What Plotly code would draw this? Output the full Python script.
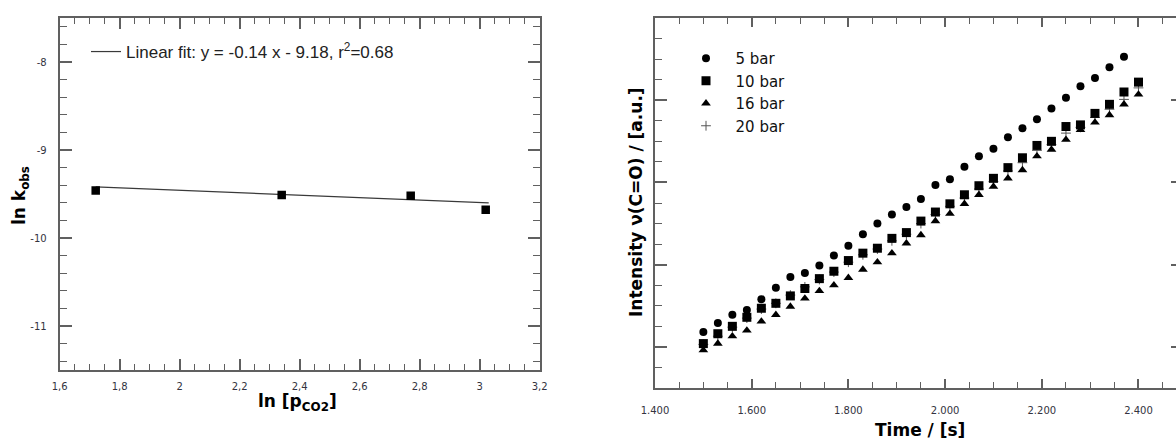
import plotly.graph_objects as go

# ---------------- data: left panel ----------------
ln_p = [1.72, 2.34, 2.77, 3.02]
ln_k = [-9.46, -9.51, -9.52, -9.68]
fit_x = [1.72, 3.03]
fit_y = [-9.42, -9.60]
fit_label = "Linear fit: y = -0.14 x - 9.18, r<sup>2</sup>=0.68"
left_yticks = [-8, -9, -10, -11]
left_yticktext = ["-8", "-9", "-10", "-11"]

# ---------------- data: right panel ----------------
time_5 = [1500, 1530, 1560, 1590, 1620, 1650, 1680, 1710, 1740, 1770,
          1800, 1830, 1860, 1890, 1920, 1950, 1980, 2010, 2040, 2070,
          2100, 2130, 2160, 2190, 2220, 2250, 2280, 2310, 2340, 2370]
time_all = [1500, 1530, 1560, 1590, 1620, 1650, 1680, 1710, 1740, 1770,
            1800, 1830, 1860, 1890, 1920, 1950, 1980, 2010, 2040, 2070,
            2100, 2130, 2160, 2190, 2220, 2250, 2280, 2310, 2340, 2370, 2400]
int_5bar = [1.18, 1.29, 1.39, 1.45, 1.58, 1.72, 1.85, 1.90, 1.99, 2.11,
            2.23, 2.37, 2.50, 2.61, 2.70, 2.80, 2.97, 3.04, 3.19, 3.32,
            3.41, 3.55, 3.66, 3.77, 3.90, 4.03, 4.17, 4.27, 4.40, 4.53]
int_10bar = [1.04, 1.16, 1.25, 1.36, 1.47, 1.53, 1.62, 1.71, 1.83, 1.92,
             2.05, 2.14, 2.20, 2.32, 2.39, 2.53, 2.64, 2.74, 2.85, 2.96,
             3.05, 3.18, 3.30, 3.45, 3.50, 3.68, 3.70, 3.84, 3.95, 4.10, 4.22]
int_16bar = [0.96, 1.04, 1.13, 1.20, 1.31, 1.39, 1.49, 1.59, 1.68, 1.75,
             1.84, 1.94, 2.03, 2.14, 2.26, 2.36, 2.53, 2.62, 2.74, 2.85,
             2.95, 3.05, 3.15, 3.32, 3.40, 3.52, 3.64, 3.73, 3.82, 3.95, 4.07]
int_20bar = [1.03, 1.13, 1.24, 1.35, 1.46, 1.53, 1.63, 1.73, 1.82, 1.91,
             2.03, 2.12, 2.19, 2.29, 2.37, 2.50, 2.61, 2.71, 2.81, 2.92,
             3.01, 3.14, 3.24, 3.39, 3.46, 3.60, 3.67, 3.79, 3.89, 4.01, 4.15]
series_names = ["5 bar", "10 bar", "16 bar", "20 bar"]
right_major_y = [1, 2, 3, 4]

W, H = 1176, 441
AX = "#606060"
TICKFONT = dict(family="DejaVu Sans", size=10, color="#333340")
NB = "\u00a0"

fig = go.Figure()

# left panel
fig.add_trace(go.Scatter(x=fit_x, y=fit_y, mode="lines", name=fit_label,
                         line=dict(color="#3a3a3a", width=1.2),
                         xaxis="x", yaxis="y", legend="legend"))
fig.add_trace(go.Scatter(x=ln_p, y=ln_k, mode="markers", showlegend=False,
                         marker=dict(symbol="square", size=8.5, color="black"),
                         xaxis="x", yaxis="y"))

# right panel
fig.add_trace(go.Scatter(x=time_all, y=int_20bar, mode="markers", name=NB * 2 + series_names[3],
                         marker=dict(symbol="cross-thin", size=7, color="#555",
                                     line=dict(color="#555", width=1)),
                         xaxis="x2", yaxis="y2", legend="legend2", legendrank=4))
fig.add_trace(go.Scatter(x=time_5, y=int_5bar, mode="markers", name=NB * 2 + series_names[0],
                         marker=dict(symbol="circle", size=8, color="black"),
                         xaxis="x2", yaxis="y2", legend="legend2", legendrank=1))
fig.add_trace(go.Scatter(x=time_all, y=int_10bar, mode="markers", name=NB * 2 + series_names[1],
                         marker=dict(symbol="square", size=9, color="black"),
                         xaxis="x2", yaxis="y2", legend="legend2", legendrank=2))
fig.add_trace(go.Scatter(x=time_all, y=int_16bar, mode="markers", name=NB * 2 + series_names[2],
                         marker=dict(symbol="triangle-up", size=8.5, color="black"),
                         xaxis="x2", yaxis="y2", legend="legend2", legendrank=3))

common = dict(showgrid=False, zeroline=False, showline=True, linecolor=AX,
              ticks="inside", tickcolor=AX, tickfont=TICKFONT, automargin=False)

fig.update_layout(
    width=W, height=H, template="none",
    margin=dict(l=0, r=0, t=0, b=0),
    paper_bgcolor="white", plot_bgcolor="white",
    separators=",.",
    xaxis=dict(domain=[59.7 / W, 539.7 / W], range=[1.6, 3.2], tick0=1.6, dtick=0.2,
               linewidth=2, ticklen=11, tickwidth=1.5, mirror="ticks",
               ticklabelstandoff=6,
               minor=dict(dtick=0.05, tick0=1.6, ticks="inside", ticklen=6, tickcolor=AX, tickwidth=1.2),
               anchor="y", **common),
    yaxis=dict(domain=[1 - 370 / H, 1 - 18 / H], range=[-11.5, -7.5],
               tickmode="array", tickvals=left_yticks, ticktext=left_yticktext,
               linewidth=2, ticklen=12, tickwidth=1.5, mirror="ticks",
               ticklabelstandoff=9,
               minor=dict(tickmode="linear", tick0=-8, dtick=0.2, ticks="inside", ticklen=7,
                          tickcolor=AX, tickwidth=1.2),
               anchor="x", **common),
    xaxis2=dict(domain=[655 / W, 1.0], range=[1400, 2477.6], tick0=1400, dtick=200,
                separatethousands=True,
                linewidth=2, ticklen=9, tickwidth=1.5, mirror="ticks",
                ticklabelstandoff=12,
                minor=dict(dtick=50, tick0=1400, ticks="inside", ticklen=6, tickcolor=AX, tickwidth=1.2),
                anchor="y2", **common),
    yaxis2=dict(domain=[1 - 388 / H, 1 - 18 / H], range=[0.5, 5.0], tick0=1, dtick=1,
                showticklabels=False,
                linewidth=2, ticklen=12, tickwidth=1.5,
                minor=dict(dtick=0.25, tick0=1, ticks="inside", ticklen=7, tickcolor=AX, tickwidth=1.2),
                anchor="x2", **common),
    yaxis3=dict(overlaying="y2", side="right", anchor="free", position=1.0,
                range=[0.5, 5.0], tickmode="array", tickvals=right_major_y,
                showticklabels=False, showline=False, showgrid=False, zeroline=False,
                ticks="inside", ticklen=5, tickwidth=1.5, tickcolor=AX),
    legend=dict(x=86 / W, y=1 - 34 / H, xanchor="left", yanchor="top",
                bgcolor="rgba(0,0,0,0)", borderwidth=0, itemwidth=30,
                font=dict(family="Liberation Sans", size=17, color="#222")),
    legend2=dict(x=686 / W, y=1 - 42 / H, xanchor="left", yanchor="top",
                 bgcolor="rgba(0,0,0,0)", borderwidth=0, itemwidth=30, traceorder="normal",
                 font=dict(family="DejaVu Sans", size=15, color="#111")),
    annotations=[
        dict(text="<b>ln k<sub>obs</sub></b>", x=20 / W, y=1 - 196 / H, xref="paper", yref="paper",
             textangle=-90, showarrow=False, xanchor="center", yanchor="middle",
             font=dict(family="DejaVu Sans", size=17, color="black")),
        dict(text="<b>ln [p<sub>CO2</sub>]</b>", x=297.5 / W, y=1 - 402 / H, xref="paper", yref="paper",
             showarrow=False, xanchor="center", yanchor="middle",
             font=dict(family="DejaVu Sans", size=17, color="black")),
        dict(text="<b>Intensity ν(C=O) / [a.u.]</b>", x=636 / W, y=1 - 202 / H, xref="paper", yref="paper",
             textangle=-90, showarrow=False, xanchor="center", yanchor="middle",
             font=dict(family="DejaVu Sans", size=17, color="black")),
        dict(text="<b>Time / [s]</b>", x=919.5 / W, y=1 - 430 / H, xref="paper", yref="paper",
             showarrow=False, xanchor="center", yanchor="middle",
             font=dict(family="DejaVu Sans", size=17, color="black")),
    ],
)

# trace placeholder for yaxis3 so the overlay axis is drawn
fig.add_trace(go.Scatter(x=[None], y=[None], xaxis="x2", yaxis="y3", showlegend=False,
                         hoverinfo="skip"))

fig.write_html("out.html", config={"displayModeBar": False},
               post_script="document.body.style.margin='0';document.body.style.overflow='hidden';")
